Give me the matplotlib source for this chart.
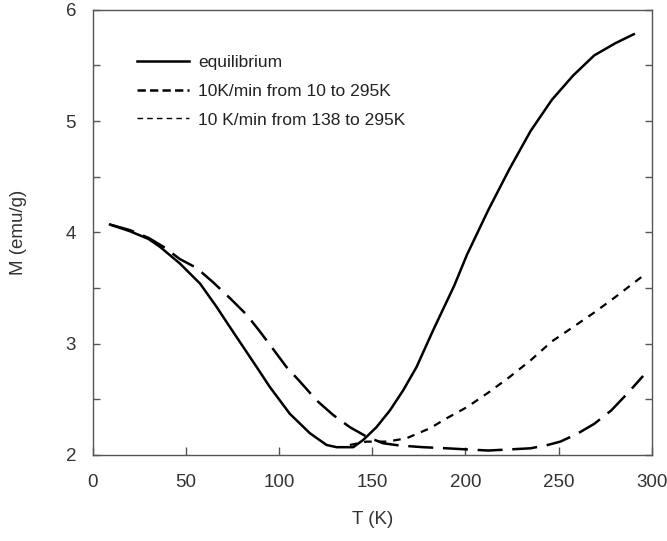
import matplotlib
matplotlib.use("Agg")
import matplotlib.pyplot as plt
import numpy as np

plt.rcParams['font.family'] = ['Liberation Sans', 'DejaVu Sans']
plt.rcParams['lines.scale_dashes'] = False

# equilibrium curve
eq_T = [9.3, 20, 30, 36.1, 46.8, 57.6, 66.5, 73.6, 80.8, 88, 95.1, 105.8, 116.6,
        125.5, 130.9, 139.8, 145.2, 152.3, 159.5, 166.6, 173.8, 182.7, 194, 200.9,
        212.3, 223.7, 235, 246.4, 257.9, 269.2, 280.6, 290.4]
eq_M = [4.07, 4.01, 3.94, 3.87, 3.72, 3.54, 3.33, 3.15, 2.97, 2.79, 2.61, 2.37, 2.195,
        2.09, 2.07, 2.07, 2.135, 2.25, 2.40, 2.58, 2.79, 3.12, 3.52, 3.80,
        4.20, 4.57, 4.91, 5.19, 5.41, 5.59, 5.70, 5.78]

# 10 K/min from 10 to 295 K
r1_T = [9.3, 20, 30, 38, 46.8, 55.8, 64.7, 73.6, 82.6, 89.7, 96, 104, 111.2, 120.2,
        129, 138, 147, 155.9, 164.8, 177.3, 190, 200.9, 212.3, 223.7, 235,
        244.2, 251, 260, 269.2, 278.3, 287.4, 295.4]
r1_M = [4.07, 4.02, 3.95, 3.87, 3.76, 3.68, 3.55, 3.41, 3.26, 3.11, 2.97, 2.79, 2.66, 2.49,
        2.36, 2.25, 2.165, 2.105, 2.085, 2.07, 2.06, 2.05, 2.04, 2.05, 2.06,
        2.09, 2.12, 2.19, 2.28, 2.40, 2.56, 2.71]

# 10 K/min from 138 to 295 K
r2_T = [138, 147, 158, 168.4, 181, 190, 200.9, 212.3, 223.7, 235, 246.4,
        257.9, 269.2, 280.6, 295.4]
r2_M = [2.09, 2.12, 2.12, 2.15, 2.24, 2.33, 2.43, 2.56, 2.70, 2.85, 3.02,
        3.15, 3.28, 3.42, 3.61]

labels = ['equilibrium', '10K/min from 10 to 295K', '10 K/min from 138 to 295K']

fig = plt.figure(figsize=(6.67, 5.41), dpi=100)
ax = fig.add_axes([0.139, 0.159, 0.838, 0.823])

ax.plot(eq_T, eq_M, color='black', lw=1.8, label=labels[0])
l1, = ax.plot(r1_T, r1_M, color='black', lw=1.8, label=labels[1])
l1.set_dashes([18, 7])
l2, = ax.plot(r2_T, r2_M, color='black', lw=1.6, label=labels[2])
l2.set_dashes([5.5, 5])

ax.set_xlim(0, 300)
ax.set_ylim(2, 6)
ax.set_xticks(np.arange(0, 301, 50))
ax.set_yticks([2, 3, 4, 5, 6])
ax.set_yticks(np.arange(2.5, 6, 1.0), minor=True)
ax.tick_params(axis='both', which='both', direction='in', colors='#555555',
               labelcolor='#333333', labelsize=13.5, width=1)
ax.tick_params(axis='y', which='both', right=True, length=5, pad=12)
ax.tick_params(axis='x', length=6, pad=14)
for s in ax.spines.values():
    s.set_color('#555555')
    s.set_linewidth(1)

ax.set_xlabel('T (K)', fontsize=13.5, color='#333333', labelpad=14)
ax.set_ylabel('M (emu/g)', fontsize=13.5, color='#333333', labelpad=28)

leg = ax.legend(loc='upper left', bbox_to_anchor=(137 / 667, 1 - 55 / 541),
                bbox_transform=fig.transFigure, frameon=False, borderpad=0,
                borderaxespad=0, fontsize=12.5, handlelength=3.0,
                handletextpad=0.5, labelspacing=0.78, labelcolor='#222222')
for h in leg.get_lines():
    h.set_linewidth(1.8)
leg.get_lines()[1].set_dashes([6, 3])
leg.get_lines()[2].set_linewidth(1.0)
leg.get_lines()[2].set_dashes([4, 3])

fig.savefig('out.png', dpi=100)
